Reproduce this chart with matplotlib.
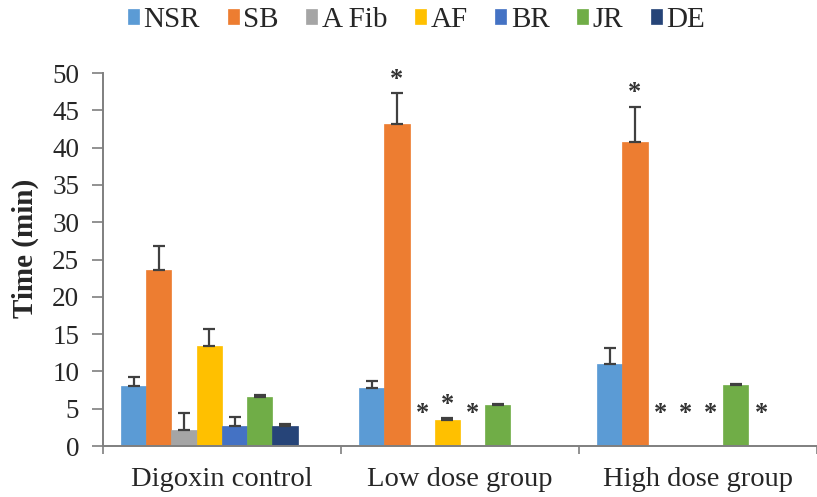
import matplotlib
matplotlib.use("Agg")
import matplotlib.pyplot as plt
import numpy as np

groups = ["Digoxin control", "Low dose group", "High dose group"]
series = ["NSR", "SB", "A Fib", "AF", "BR", "JR", "DE"]
colors = ["#5B9BD5", "#ED7D31", "#A5A5A5", "#FFC000", "#4472C4", "#70AD47", "#264478"]

means = {
    "NSR":   [8.0, 7.8, 11.0],
    "SB":    [23.6, 43.2, 40.7],
    "A Fib": [2.1, 0.0, 0.0],
    "AF":    [13.4, 3.5, 0.0],
    "BR":    [2.7, 0.0, 0.0],
    "JR":    [6.6, 5.5, 8.2],
    "DE":    [2.7, 0.0, 0.0],
}
errs = {
    "NSR":   [1.2, 0.9, 2.1],
    "SB":    [3.2, 4.1, 4.8],
    "A Fib": [2.3, 0.0, 0.0],
    "AF":    [2.3, 0.2, 0.0],
    "BR":    [1.2, 0.0, 0.0],
    "JR":    [0.2, 0.1, 0.1],
    "DE":    [0.3, 0.0, 0.0],
}
# significance markers: (group index, series name)
stars = [(1, "SB"), (2, "SB"), (1, "A Fib"), (1, "AF"), (1, "BR"),
         (2, "A Fib"), (2, "AF"), (2, "BR"), (2, "DE")]

plt.rcParams['font.family'] = ['Liberation Serif', 'DejaVu Serif']

fig = plt.figure(figsize=(8.17, 4.97), dpi=100)
ax = fig.add_axes([0.126, 0.1026, 0.874, 0.7504])

n_slots = 8
w = 0.106
x = np.arange(len(groups)) + 0.5
handles = []
for i, s in enumerate(series):
    pos = x + (i - (n_slots - 1) / 2) * w
    m = np.array(means[s])
    e = np.array(errs[s])
    show = m > 0
    b = ax.bar(pos[show], m[show], width=w, color=colors[i], edgecolor=colors[i],
               linewidth=0.5, zorder=2, label=s)
    ax.errorbar(pos[show], m[show], yerr=[np.zeros(show.sum()), e[show]],
                fmt='none', ecolor='#404040', elinewidth=1.6, capsize=4,
                capthick=1.6, zorder=3)
    handles.append(b)

for g, s in stars:
    i = series.index(s)
    px = x[g] + (i - (n_slots - 1) / 2) * w
    top = means[s][g] + errs[s][g]
    y = top + 1.9 if means[s][g] > 0 else 4.4
    ax.text(px, y, "*", ha='center', va='center', fontsize=19, color='#333333',
            fontweight='bold')

ax.set_xlim(0, 2.975)
ax.set_ylim(0, 50)
ax.set_yticks(np.arange(0, 51, 5))
ax.set_xticks([0, 1, 2, 3])
ax.set_xticklabels([])
ax.set_xticks(x, minor=True)
ax.set_xticklabels(groups, minor=True, fontsize=20.5, color='#262626')
ax.tick_params(axis='x', which='minor', length=0, pad=15)
ax.tick_params(axis='x', which='major', length=6, width=1.2, color='#7f7f7f', direction='out')
ax.tick_params(axis='y', length=8, width=1.2, color='#7f7f7f', labelsize=19.5,
               pad=9, labelcolor='#262626')
for sp in ['top', 'right']:
    ax.spines[sp].set_visible(False)
for sp in ['left', 'bottom']:
    ax.spines[sp].set_color('#7f7f7f')
    ax.spines[sp].set_linewidth(1.4)

ax.set_ylabel("Time (min)", fontsize=21, fontweight='bold', color='#262626')
ax.yaxis.set_label_coords(-0.09, 0.53)

fig.legend(handles=handles, labels=series, loc='center', bbox_to_anchor=(0.51, 0.96),
           ncol=7, frameon=False, fontsize=21, handlelength=0.38, handleheight=0.38,
           handletextpad=0.15, columnspacing=0.95, labelcolor='#262626')

fig.savefig("out.png", dpi=100)
